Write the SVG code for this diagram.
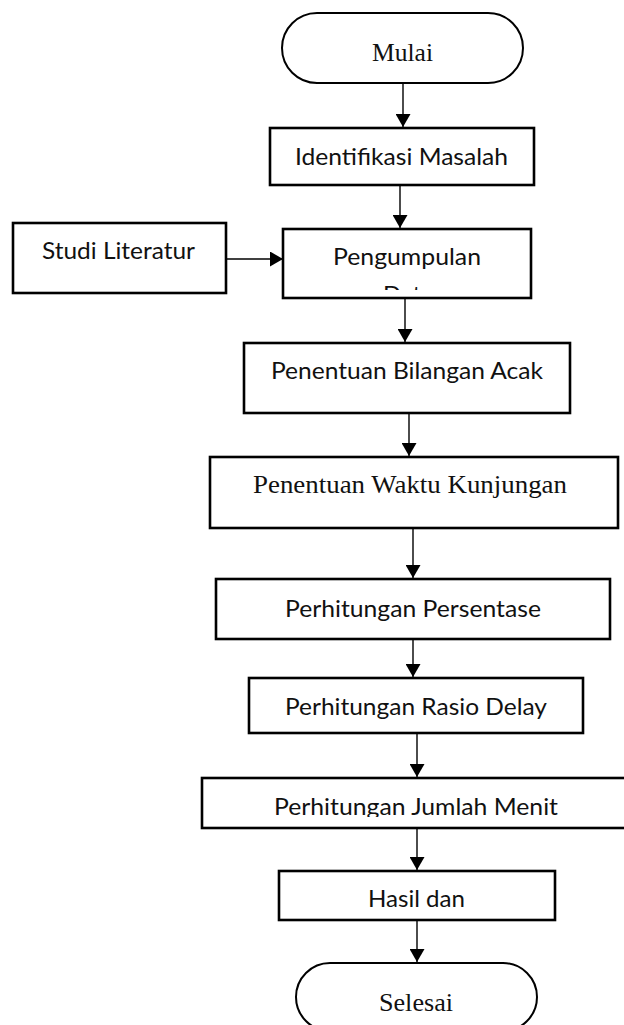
<svg xmlns="http://www.w3.org/2000/svg" width="624" height="1025" viewBox="0 0 624 1025">
<style>
.box{fill:#fff;stroke:#000;stroke-width:2.6}
.pill{fill:#fff;stroke:#000;stroke-width:2}
.c{font-family:Lato,"Liberation Sans",sans-serif;font-size:24px;fill:#111}
.t{font-family:"Liberation Serif","Times New Roman",serif;font-size:26px;fill:#111}
.ln{stroke:#000;stroke-width:1.4;fill:none}
</style>
<defs>
<marker id="ah" markerUnits="userSpaceOnUse" viewBox="0 0 13 15" markerWidth="13" markerHeight="15" refX="13" refY="7.5" orient="auto">
<path d="M0,0 L13,7.5 L0,15 Z" fill="#000"/>
</marker>
<clipPath id="clipData"><rect x="0" y="0" width="624" height="290"/></clipPath>
<clipPath id="clipMenit"><rect x="0" y="0" width="624" height="817"/></clipPath>
<clipPath id="clipSelesai"><rect x="0" y="0" width="624" height="1015"/></clipPath>
</defs>
<rect width="624" height="1025" fill="#fff"/>
<g id="n-mulai">
<rect class="pill" x="282" y="13" width="241" height="70" rx="35" ry="35"/>
<text class="t" x="402.5" y="61" text-anchor="middle" textLength="61" lengthAdjust="spacingAndGlyphs">Mulai</text>
</g>
<g id="n-identifikasi">
<rect class="box" x="270" y="128" width="264" height="57"/>
<text class="c" x="295" y="165" textLength="213" lengthAdjust="spacingAndGlyphs">Identifikasi Masalah</text>
</g>
<g id="n-studi">
<rect class="box" x="13" y="223" width="213" height="70"/>
<text class="c" x="42" y="259" textLength="153" lengthAdjust="spacingAndGlyphs">Studi Literatur</text>
</g>
<g id="n-pengumpulan">
<rect class="box" x="283" y="229" width="248" height="69"/>
<text class="c" x="333" y="265" textLength="148" lengthAdjust="spacingAndGlyphs">Pengumpulan</text>
<text class="c" x="383" y="303" textLength="50" lengthAdjust="spacingAndGlyphs" clip-path="url(#clipData)">Data</text>
</g>
<g id="n-bilangan">
<rect class="box" x="244" y="343" width="326" height="70"/>
<text class="c" x="271" y="379" textLength="272" lengthAdjust="spacingAndGlyphs">Penentuan Bilangan Acak</text>
</g>
<g id="n-waktu">
<rect class="box" x="210" y="457" width="408" height="71"/>
<text class="t" x="253" y="493" textLength="314" lengthAdjust="spacingAndGlyphs">Penentuan Waktu Kunjungan</text>
</g>
<g id="n-persentase">
<rect class="box" x="216" y="579" width="394" height="60"/>
<text class="c" x="285" y="617" textLength="256" lengthAdjust="spacingAndGlyphs">Perhitungan Persentase</text>
</g>
<g id="n-rasio">
<rect class="box" x="249" y="678" width="334" height="55"/>
<text class="c" x="285" y="715" textLength="262" lengthAdjust="spacingAndGlyphs">Perhitungan Rasio Delay</text>
</g>
<g id="n-menit">
<rect class="box" x="202" y="778" width="440" height="50"/>
<text class="c" x="274" y="815" textLength="284" lengthAdjust="spacingAndGlyphs" clip-path="url(#clipMenit)">Perhitungan Jumlah Menit</text>
</g>
<g id="n-hasil">
<rect class="box" x="279" y="871" width="276" height="49"/>
<text class="c" x="368" y="907" textLength="97" lengthAdjust="spacingAndGlyphs">Hasil dan</text>
</g>
<g id="n-selesai">
<rect class="pill" x="296" y="963" width="241" height="68" rx="34" ry="34"/>
<text class="t" x="379" y="1011" textLength="74" lengthAdjust="spacingAndGlyphs" clip-path="url(#clipSelesai)">Selesai</text>
</g>
<g id="connectors">
<line class="ln" x1="403" y1="83" x2="403" y2="127" marker-end="url(#ah)"/>
<line class="ln" x1="400" y1="185" x2="400" y2="228" marker-end="url(#ah)"/>
<line class="ln" x1="226" y1="259" x2="283" y2="259" marker-end="url(#ah)"/>
<line class="ln" x1="405" y1="298" x2="405" y2="342" marker-end="url(#ah)"/>
<line class="ln" x1="409" y1="413" x2="409" y2="456" marker-end="url(#ah)"/>
<line class="ln" x1="413" y1="528" x2="413" y2="578" marker-end="url(#ah)"/>
<line class="ln" x1="413" y1="639" x2="413" y2="677" marker-end="url(#ah)"/>
<line class="ln" x1="417" y1="733" x2="417" y2="777" marker-end="url(#ah)"/>
<line class="ln" x1="417" y1="828" x2="417" y2="870" marker-end="url(#ah)"/>
<line class="ln" x1="417" y1="920" x2="417" y2="962" marker-end="url(#ah)"/>
</g>
</svg>
